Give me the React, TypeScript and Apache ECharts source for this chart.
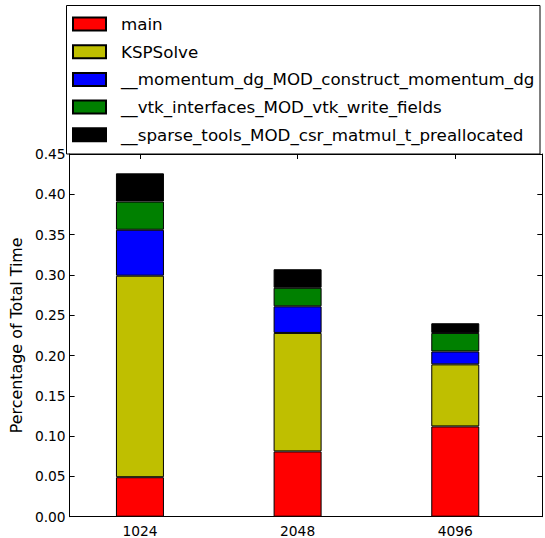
import React, { useEffect, useRef } from "react";
import * as echarts from "echarts";

// Problem sizes along the x axis
const categories = ["1024", "2048", "4096"];
const positions = [0, 1, 2];

// Fraction of total run time per routine, stacked bottom to top
const mainVals = [0.049, 0.081, 0.112];
const kspSolveVals = [0.25, 0.147, 0.077];
const momentumVals = [0.057, 0.033, 0.016];
const vtkVals = [0.035, 0.023, 0.023];
const sparseVals = [0.035, 0.023, 0.012];

const seriesNames = [
  "main",
  "KSPSolve",
  "__momentum_dg_MOD_construct_momentum_dg",
  "__vtk_interfaces_MOD_vtk_write_fields",
  "__sparse_tools_MOD_csr_matmul_t_preallocated",
];
const seriesColors = ["#ff0000", "#bfbf00", "#0000ff", "#008000", "#000000"];
const seriesValues = [mainVals, kspSolveVals, momentumVals, vtkVals, sparseVals];

const FONT = "DejaVu Sans";

export default function App() {
  const ref = useRef<HTMLDivElement>(null);

  useEffect(() => {
    if (!ref.current) return;
    const chart = echarts.init(ref.current, undefined, { renderer: "svg" });

    const xCommon = {
      type: "value" as const,
      min: -0.446,
      max: 2.552,
      splitLine: { show: false },
      axisLine: { show: true, onZero: false, lineStyle: { color: "#000", width: 1 } },
    };
    const yCommon = {
      type: "value" as const,
      min: 0,
      max: 0.45,
      interval: 0.05,
      splitLine: { show: false },
      axisLine: { show: true, onZero: false, lineStyle: { color: "#000", width: 1 } },
    };

    chart.setOption({
      animation: false,
      backgroundColor: "#ffffff",
      textStyle: { fontFamily: FONT },
      grid: { left: 66.7, top: 154, right: 2.7, bottom: 21.3, containLabel: false },
      legend: {
        orient: "vertical",
        left: 72,
        top: 14,
        padding: 0,
        itemWidth: 33,
        itemHeight: 13,
        itemGap: 7.7,
        icon: "rect",
        selectedMode: false,
        data: seriesNames,
        textStyle: {
          fontFamily: FONT,
          fontSize: 16.7,
          color: "#000",
          lineHeight: 20,
          padding: [0, 0, 0, 10],
        },
      },
      graphic: [
        {
          type: "rect",
          shape: { x: 66.5, y: 5.5, width: 473.5, height: 148.5 },
          style: { fill: "none", stroke: "#000", lineWidth: 1 },
          z: 100,
        },
      ],
      xAxis: [
        {
          ...xCommon,
          position: "bottom",
          axisTick: { show: true, inside: true, length: 5, customValues: positions, lineStyle: { color: "#000" } },
          axisLabel: {
            show: true,
            customValues: positions,
            margin: 7,
            fontFamily: FONT,
            fontSize: 13.8,
            color: "#000",
            formatter: (v: number) => categories[Math.round(v)] ?? "",
          },
        },
        {
          ...xCommon,
          position: "top",
          axisTick: { show: true, inside: true, length: 5, customValues: positions, lineStyle: { color: "#000" } },
          axisLabel: { show: false },
        },
      ],
      yAxis: [
        {
          ...yCommon,
          position: "left",
          name: "Percentage of Total Time",
          nameLocation: "middle",
          nameRotate: 90,
          nameGap: 39,
          nameTextStyle: { fontFamily: FONT, fontSize: 15.9, color: "#000" },
          axisTick: { show: true, inside: true, length: 5, lineStyle: { color: "#000" } },
          axisLabel: {
            show: true,
            margin: 4,
            fontFamily: FONT,
            fontSize: 13.8,
            color: "#000",
            formatter: (v: number) => v.toFixed(2),
          },
        },
        {
          ...yCommon,
          position: "right",
          axisTick: { show: true, inside: true, length: 5, lineStyle: { color: "#000" } },
          axisLabel: { show: false },
        },
      ],
      // Each datum is [value, position]; the value column comes first so the
      // stack is applied to the y values.
      series: seriesNames.map((name, i) => ({
        name,
        type: "bar",
        stack: "total",
        xAxisIndex: 0,
        yAxisIndex: 0,
        barWidth: 48,
        encode: { x: 1, y: 0 },
        itemStyle: { color: seriesColors[i], borderColor: "#000", borderWidth: 1 },
        emphasis: { disabled: true },
        data: positions.map((p, j) => [seriesValues[i][j], p]),
      })),
    });

    return () => chart.dispose();
  }, []);

  return (
    <div
      ref={ref}
      style={{ position: "absolute", left: 0, top: 0, width: 545, height: 538 }}
    />
  );
}
